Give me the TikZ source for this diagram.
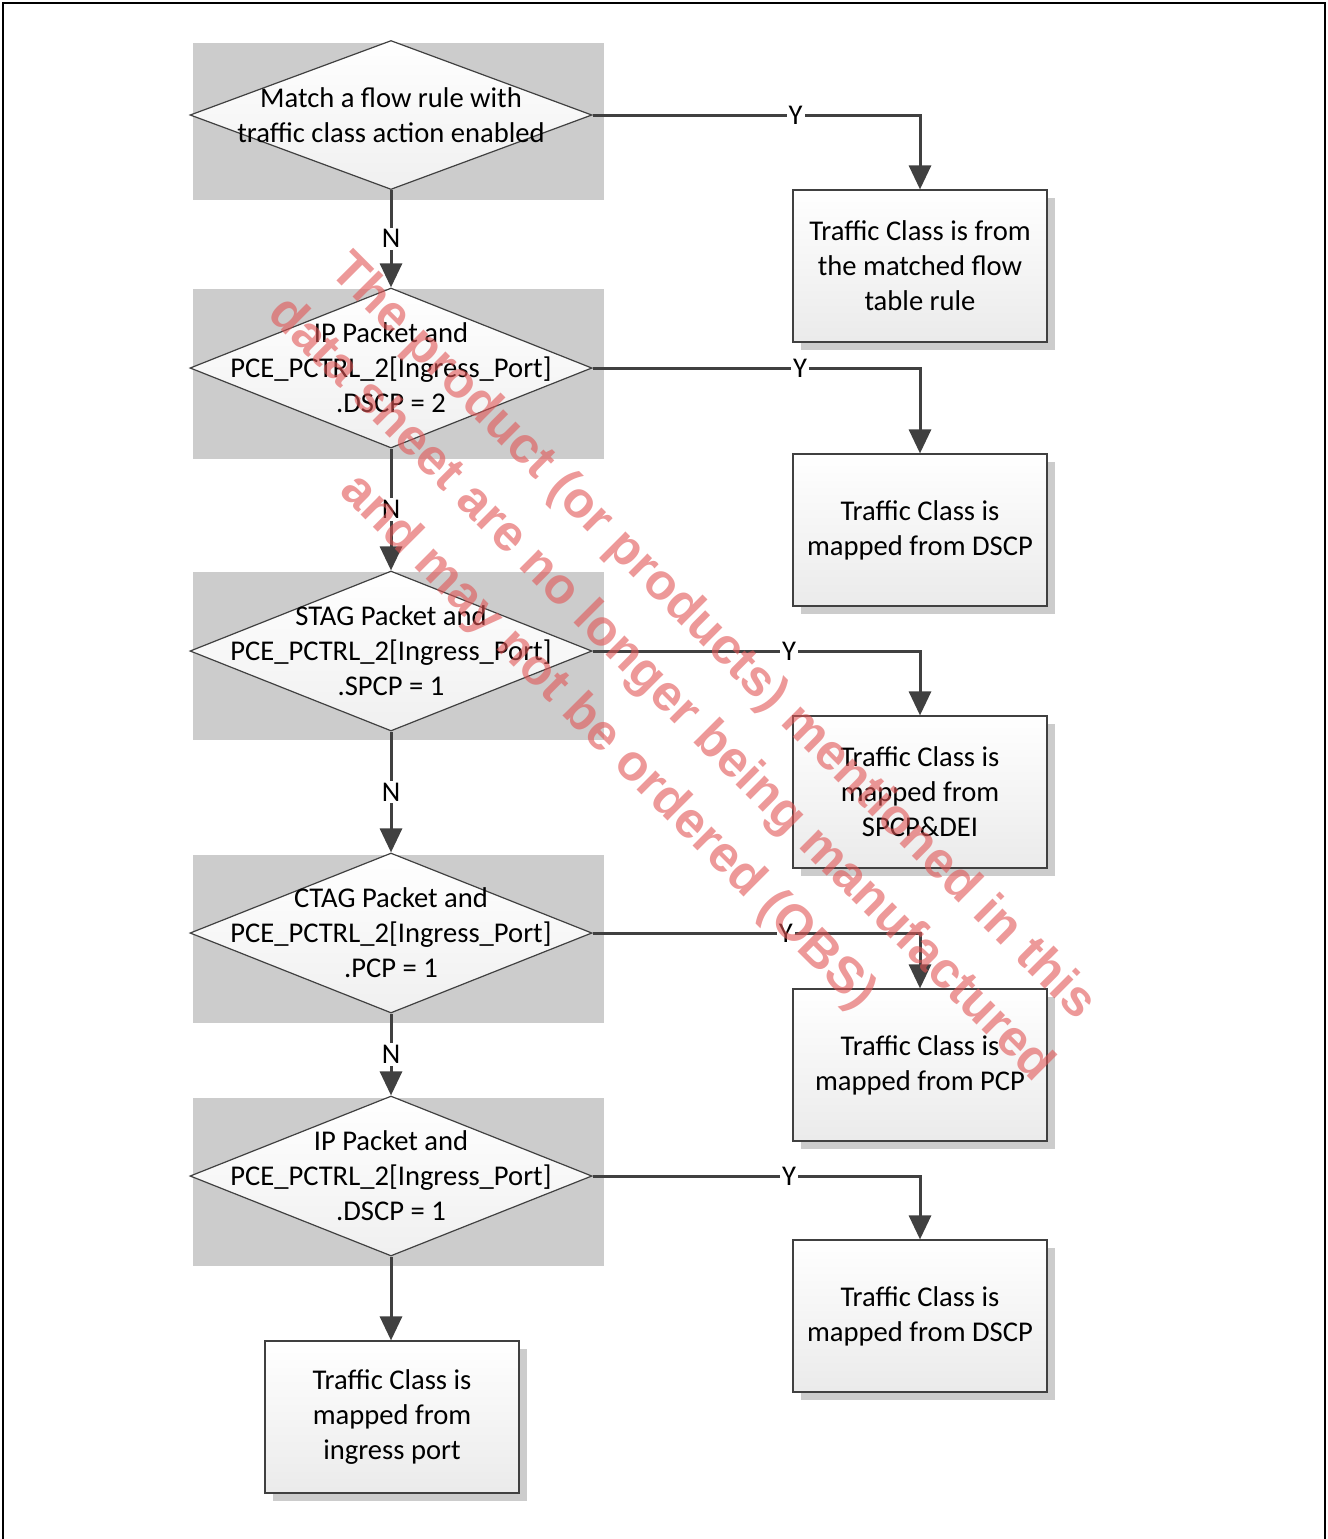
\documentclass[tikz,border=0pt]{standalone}
\usepackage{fontspec}
\setmainfont{Carlito}
\newfontfamily\wmfont{Liberation Sans}
\usetikzlibrary{shapes.geometric,arrows.meta,shadows}
\definecolor{linec}{HTML}{404040}
\definecolor{bgc}{HTML}{CCCCCC}
\definecolor{wmc}{RGB}{225,85,85}
\begin{document}
\begin{tikzpicture}[x=0.5pt,y=-0.5pt,
  txt/.style={font=\fontsize{14.3}{17.5}\selectfont},
  dia/.style={diamond, draw=linec, line width=0.6pt, top color=white, bottom color=gray!12, minimum width=201pt, minimum height=80pt, inner sep=0pt},
  dtext/.style={txt, align=center, inner sep=0pt},
  box/.style={rectangle, draw=linec, line width=0.6pt, top color=white, bottom color=gray!16, minimum width=127pt, minimum height=76pt, align=center, inner sep=0pt, txt,
    drop shadow={shadow xshift=4pt, shadow yshift=-4pt, fill=gray!40, opacity=1}},
  conn/.style={draw=linec, line width=1.5pt, -{Triangle[width=11pt,length=12pt]}},
  lab/.style={fill=white, inner sep=1pt, txt},
  wm/.style={align=center, text=wmc, text opacity=0.6, font=\wmfont\bfseries\fontsize{25.4}{37}\selectfont}
]
\useasboundingbox (0,0) rectangle (1328,1539);
\draw[black, line width=1pt] (3,1539) -- (3,3) -- (1325,3) -- (1325,1539);

% gray backgrounds
\fill[bgc] (193,43) rectangle (604,200);
\fill[bgc] (193,289) rectangle (604,459);
\fill[bgc] (193,572) rectangle (604,740);
\fill[bgc] (193,855) rectangle (604,1023);
\fill[bgc] (193,1098) rectangle (604,1266);

% diamonds
\node[dia, minimum height=74.5pt] (d1) at (391,115) {};
\node[dtext] (t1) at (d1) {Match a flow rule with\\traffic class action enabled};
\node[dia] (d2) at (391,368) {};
\node[dtext] (t2) at (d2) {IP Packet and\\PCE\_PCTRL\_2[Ingress\_Port]\\.DSCP = 2};
\node[dia] (d3) at (391,651) {};
\node[dtext] (t3) at (d3) {STAG Packet and\\PCE\_PCTRL\_2[Ingress\_Port]\\.SPCP = 1};
\node[dia] (d4) at (391,933) {};
\node[dtext] (t4) at (d4) {CTAG Packet and\\PCE\_PCTRL\_2[Ingress\_Port]\\.PCP = 1};
\node[dia] (d5) at (391,1176) {};
\node[dtext] (t5) at (d5) {IP Packet and\\PCE\_PCTRL\_2[Ingress\_Port]\\.DSCP = 1};

% boxes
\node[box] (b1) at (920,266) {Traffic Class is from\\the matched flow\\table rule};
\node[box] (b2) at (920,530) {Traffic Class is\\mapped from DSCP};
\node[box] (b3) at (920,792) {Traffic Class is\\mapped from\\SPCP\&DEI};
\node[box] (b4) at (920,1065) {Traffic Class is\\mapped from PCP};
\node[box] (b5) at (920,1316) {Traffic Class is\\mapped from DSCP};
\node[box] (b6) at (392,1417) {Traffic Class is\\mapped from\\ingress port};

% Y connectors
\draw[conn] (d1.east) -- node[lab,pos=0.62]{Y} (d1.east -| b1.north) -- (b1.north);
\draw[conn] (d2.east) -- node[lab,pos=0.634]{Y} (d2.east -| b2.north) -- (b2.north);
\draw[conn] (d3.east) -- node[lab,pos=0.60]{Y} (d3.east -| b3.north) -- (b3.north);
\draw[conn] (d4.east) -- node[lab,pos=0.59]{Y} (d4.east -| b4.north) -- (b4.north);
\draw[conn] (d5.east) -- node[lab,pos=0.60]{Y} (d5.east -| b5.north) -- (b5.north);

% N connectors
\draw[conn] (d1.south) -- node[lab]{N} (d2.north);
\draw[conn] (d2.south) -- node[lab]{N} (d3.north);
\draw[conn] (d3.south) -- node[lab]{N} (d4.north);
\draw[conn] (d4.south) -- node[lab]{N} (d5.north);
\draw[conn] (d5.south) -- (d5.south |- b6.north);

% watermark
\node[wm, rotate=-45] (wmk) at (660,690) {The product (or products) mentioned in this\\data sheet are no longer being manufactured\\and may not be ordered (OBS)};
\end{tikzpicture}
\end{document}
